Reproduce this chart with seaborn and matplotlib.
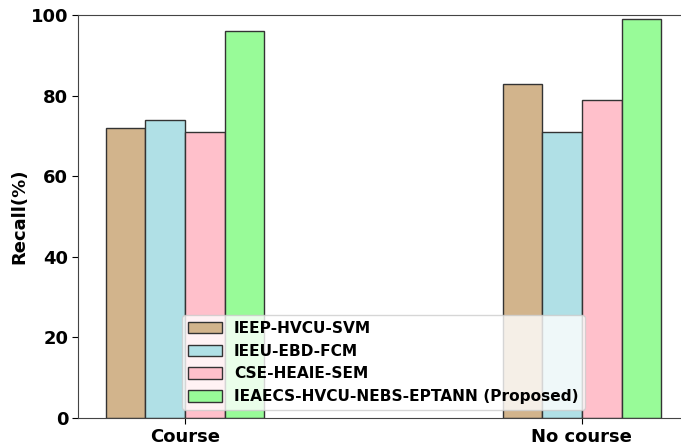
import pandas as pd
import numpy as np
import matplotlib
matplotlib.use('Agg')
import matplotlib.pyplot as plt
import seaborn as sns

sns.set_style('white')
plt.rcParams['font.family'] = ['DejaVu Sans']
plt.rcParams['font.weight'] = 'bold'
plt.rcParams['text.color'] = 'black'
plt.rcParams['axes.labelcolor'] = 'black'
plt.rcParams['xtick.color'] = 'black'
plt.rcParams['ytick.color'] = 'black'

# Data
groups = ['Course', 'No course']
methods = ['IEEP-HVCU-SVM', 'IEEU-EBD-FCM', 'CSE-HEAIE-SEM',
           'IEAECS-HVCU-NEBS-EPTANN (Proposed)']
course_vals = [72, 74, 71, 96]
no_course_vals = [83, 71, 79, 99]
colors = ['tan', 'powderblue', 'pink', 'palegreen']

df = pd.DataFrame({
    'Group': [groups[0]] * 4 + [groups[1]] * 4,
    'Method': methods * 2,
    'Recall': course_vals + no_course_vals,
})

fig = plt.figure(figsize=(6.81, 4.46), dpi=100)
ax = fig.add_axes([78 / 681, 28 / 446, 611 / 681, 403 / 446])

sns.barplot(data=df, x='Group', y='Recall', hue='Method', order=groups,
            hue_order=methods, palette=colors, saturation=1, width=0.4, gap=0,
            edgecolor='#333333', linewidth=1, errorbar=None, ax=ax)

ax.set_xlim(-0.27, 1.27)
ax.set_ylim(0, 100)
ax.set_xlabel('')
ax.set_ylabel('Recall(%)', fontsize=13, fontweight='bold', labelpad=2)
ax.tick_params(axis='both', labelsize=13, length=4, direction='out',
               bottom=True, left=True, pad=3)
for lbl in ax.get_xticklabels() + ax.get_yticklabels():
    lbl.set_fontweight('bold')
for s in ax.spines.values():
    s.set_color('#444444')

leg = ax.legend(loc='lower center', fontsize=11.1, frameon=True, framealpha=0.8,
                handlelength=2.15, handleheight=0.78)
for t in leg.get_texts():
    t.set_fontweight('bold')

plt.savefig('out.png', dpi=100)
